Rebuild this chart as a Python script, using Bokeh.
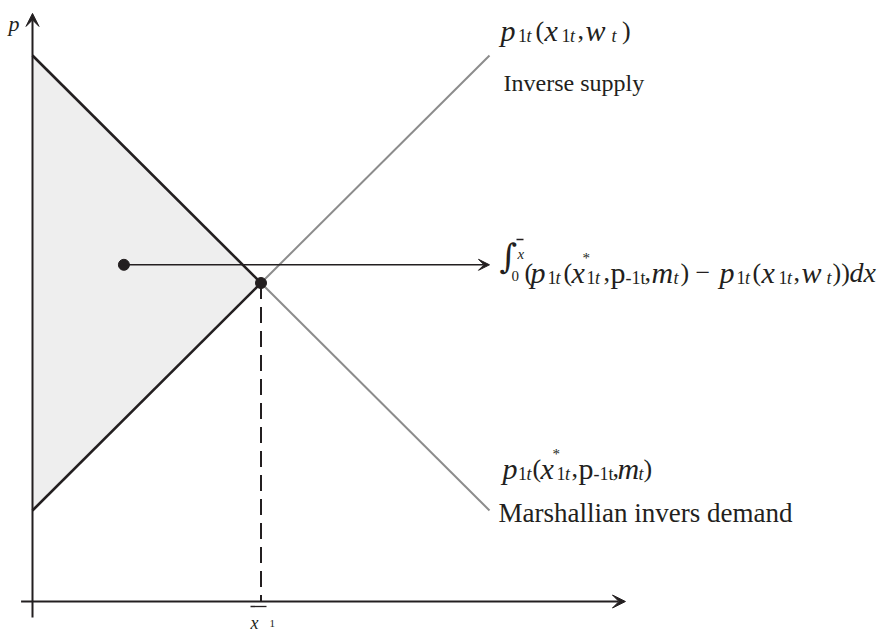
from bokeh.plotting import figure
from bokeh.models import Range1d, Arrow, VeeHead, ColumnDataSource
from bokeh.embed import file_html
from bokeh.resources import INLINE

# Linear market model: quantity on x, price on y
quantity = [0, 10, 20]
demand_price = [24, 14, 4]      # Marshallian inverse demand
supply_price = [4, 14, 24]      # inverse supply
equilibrium_q = 10
equilibrium_p = 14
surplus_marker = [4, 14.8]      # dot inside the shaded surplus area
surplus_arrow_end = 20          # where the pointer to the integral ends

# axis extents (data units)
x_axis_extent = [-0.5, 25.95]
y_axis_extent = [-0.7, 25.85]

INK = "#231f20"
GREY = "#8c8c8c"
FILL = "#eeeeee"
SERIF = "Liberation Serif"

# canvas geometry: where the origin sits and how many pixels one unit takes
W, H = 877, 633
ORIGIN = (32, 601)
PX_X = 22.85
PX_Y = 22.75


def to_data(xp, yp):
    """Pixel position on the canvas -> data coordinates (for label placement)."""
    return (xp - ORIGIN[0]) / PX_X, (ORIGIN[1] - yp) / PX_Y


x0, y1 = to_data(0, 0)
x1, y0 = to_data(W, H)

p = figure(width=W, height=H, x_range=Range1d(x0, x1), y_range=Range1d(y0, y1),
           output_backend="svg", toolbar_location=None, min_border=0,
           x_axis_type=None, y_axis_type=None, outline_line_color=None,
           background_fill_color="white", border_fill_color="white")

# shaded surplus triangle between demand and supply up to the equilibrium
p.patch([quantity[0], quantity[1], quantity[0]],
        [demand_price[0], demand_price[1], supply_price[0]],
        fill_color=FILL, line_color=None)

# curve continuations beyond the equilibrium (grey)
p.line(quantity[1:], demand_price[1:], line_color=GREY, line_width=2)
p.line(quantity[1:], supply_price[1:], line_color=GREY, line_width=2)
# curve parts bounding the surplus (black)
p.line(quantity[:2], demand_price[:2], line_color=INK, line_width=2.6)
p.line(quantity[:2], supply_price[:2], line_color=INK, line_width=2.6)

# drop line from the equilibrium to the quantity axis
p.line([equilibrium_q, equilibrium_q], [equilibrium_p, 0],
       line_color=INK, line_width=2, line_dash="16 8")

# axes with arrow heads
p.add_layout(Arrow(x_start=x_axis_extent[0], y_start=0, x_end=x_axis_extent[1], y_end=0,
                   line_color=INK, line_width=2,
                   end=VeeHead(size=13, fill_color=INK, line_color=INK)))
p.add_layout(Arrow(x_start=0, y_start=y_axis_extent[0], x_end=0, y_end=y_axis_extent[1],
                   line_color=INK, line_width=2,
                   end=VeeHead(size=13, fill_color=INK, line_color=INK)))

# pointer from the surplus area to its integral expression
p.add_layout(Arrow(x_start=surplus_marker[0], y_start=surplus_marker[1],
                   x_end=surplus_arrow_end, y_end=surplus_marker[1],
                   line_color=INK, line_width=1.6,
                   end=VeeHead(size=11, fill_color=INK, line_color=INK)))

p.scatter([surplus_marker[0], equilibrium_q], [surplus_marker[1], equilibrium_p],
          size=11, color=INK)

# ---- typeset labels: (text, left px, baseline px, size px, style, font)
I, N = "italic", "normal"
V, P, S = 30, 26, 18      # variable letters, punctuation, subscripts
F = SERIF

supply_label = [
    ("p", 500, 30, V, I, F), ("1", 517.5, 35, S, N, F), ("t", 526, 35, S, I, F),
    ("(", 535, 30, P, N, F), ("x", 544, 30, V, I, F), ("1", 561, 35, S, N, F),
    ("t", 569.5, 35, S, I, F), (",", 577, 30, P, N, F), ("w", 585, 30, V, I, F),
    ("t", 611, 35, S, I, F), (")", 621.5, 30, P, N, F),
    ("Inverse supply", 503, 82, 24, N, F),
]

BL = 272   # baseline of the integral expression
integral_label = [
    ("\u222b", 499, BL - 17, 34, N, "DejaVu Serif"), ("x", 517, BL - 19, 15, I, F),
    ("0", 511, BL + 3, 15, N, F),
    ("(", 524, BL, P, N, F), ("p", 530, BL, V, I, F), ("1", 547, BL + 5, S, N, F),
    ("t", 555, BL + 5, S, I, F), ("(", 563, BL, P, N, F), ("x", 571, BL, V, I, F),
    ("*", 582, BL - 15, 15, N, F), ("1", 586, BL + 5, S, N, F), ("t", 594.5, BL + 5, S, I, F),
    (",", 603, BL, P, N, F), ("p", 610, BL, V, N, F), ("-1t", 625, BL + 5, S, N, F),
    (",", 644, BL, P, N, F), ("m", 651, BL, V, I, F), ("t", 673, BL + 5, S, I, F),
    (")", 680, BL, P, N, F), ("\u2212", 695, BL, P, N, F), ("p", 719, BL, V, I, F),
    ("1", 736, BL + 5, S, N, F), ("t", 744.5, BL + 5, S, I, F), ("(", 752, BL, P, N, F),
    ("x", 761, BL, V, I, F), ("1", 778, BL + 5, S, N, F), ("t", 786.5, BL + 5, S, I, F),
    (",", 793, BL, P, N, F), ("w", 801, BL, V, I, F), ("t", 826, BL + 5, S, I, F),
    ("))", 832, BL, P, N, F), ("dx", 849, BL, 28, I, F),
]

demand_label = [
    ("p", 502, 468, V, I, F), ("1", 517.5, 473, S, N, F), ("t", 526, 473, S, I, F),
    ("(", 532, 468, P, N, F), ("x", 540, 468, V, I, F), ("*", 552, 453, 15, N, F),
    ("1", 556, 473, S, N, F), ("t", 564.5, 473, S, I, F), (",", 571, 468, P, N, F),
    ("p", 578, 468, V, N, F), ("-1t", 593, 473, S, N, F), (",", 612, 468, P, N, F),
    ("m", 617, 468, V, I, F), ("t", 638, 473, S, I, F), (")", 643, 468, P, N, F),
    ("Marshallian invers demand", 498, 512, 27, N, F),
]

axis_labels = [
    ("p", 8, 23, 22, I, F),
    ("x", 250, 622, 18, I, F), ("1", 269, 623, 11, N, F),
]

segments = supply_label + integral_label + demand_label + axis_labels
xs, ys = zip(*[to_data(s[1], s[2]) for s in segments])
src = ColumnDataSource(dict(
    x=list(xs), y=list(ys),
    text=[s[0] for s in segments],
    size=[f"{s[3]}px" for s in segments],
    style=[s[4] for s in segments],
    font=[s[5] for s in segments],
))
p.text(x="x", y="y", text="text", source=src, text_font="font",
       text_font_size="size", text_font_style="style", text_color=INK,
       text_align="left", text_baseline="alphabetic")

# bars over the x-bar symbols
bars = [(516, 523, BL - 33), (250, 266, 606)]
bx0, by0 = zip(*[to_data(b[0], b[2]) for b in bars])
bx1, by1 = zip(*[to_data(b[1], b[2]) for b in bars])
p.segment(x0=list(bx0), y0=list(by0), x1=list(bx1), y1=list(by1),
          line_color=INK, line_width=1.3)

open("out.html", "w").write(file_html(p, INLINE))
